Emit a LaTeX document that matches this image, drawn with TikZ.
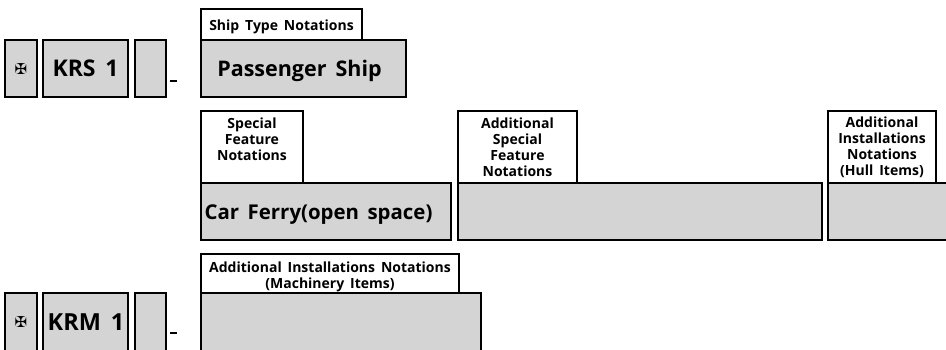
\documentclass[tikz,border=0pt]{standalone}
\usepackage{fontspec}
\setmainfont{Open Sans}
\newfontfamily\crossfont{DejaVu Sans}
\newcommand{\tightleading}[1]{\fontsize{#1}{#1}\selectfont\bfseries\spaceskip=.42em plus .05em minus .05em\relax}
\newcommand{\dropped}[1]{\raisebox{-8.5pt}[0pt][0pt]{#1}}
\tikzset{
  boxbase/.style={draw=black,line width=2.7pt,anchor=north west,inner sep=0pt,outer sep=0pt,align=center,text=black},
  greybox/.style={boxbase,fill=boxgrey,font=\tightleading{21.5}},
  notebox/.style={boxbase,fill=white,font=\tightleading{14},execute at begin node={\baselineskip=16pt\relax}},
  crossmark/.style={font={\crossfont\bfseries\fontsize{15}{15}\selectfont},inner sep=0pt},
  dashmark/.style={inner sep=0pt,fill=black,minimum width=7pt,minimum height=1.6pt}
}
\definecolor{boxgrey}{RGB}{212,212,212}
\begin{document}
\begin{tikzpicture}[x=1pt,y=-1pt]
\useasboundingbox (0,0) rectangle (946,350);
\clip (0,0) rectangle (946,350);
% first row
\node[greybox,minimum width=32pt,minimum height=57pt] (crossa) at (5,40) {};
\node[crossmark] (crossamark) at (21,69.5) {✠};
\node[greybox,minimum width=85pt,minimum height=57pt,font=\tightleading{23}] (krs) at (43,40) {\dropped{KRS 1}};
\node[greybox,minimum width=31pt,minimum height=57pt] (emptya) at (135,40) {};
\node[dashmark] (dasha) at (173.5,81) {};
\node[notebox,minimum width=161pt,minimum height=31pt] (shiplabel) at (201,9) {\raisebox{-6pt}[0pt][0pt]{Ship Type Notations}};
\node[greybox,minimum width=205pt,minimum height=57pt] (ship) at (201,40) {\dropped{Passenger Ship}\hspace{8pt}};
% second row
\node[notebox,minimum width=102pt,minimum height=72pt] (speciallabel) at (201,111) {Special\\Feature\\Notations\\\mbox{}};
\node[greybox,minimum width=250pt,minimum height=57pt,font=\tightleading{20.4}] (ferry) at (201,183) {\dropped{Car Ferry(open space)}\hspace{15pt}};
\node[notebox,minimum width=119pt,minimum height=72pt] (addlabel) at (458,111) {Additional\\Special\\Feature\\Notations};
\node[greybox,minimum width=364pt,minimum height=57pt] (addbox) at (458,183) {};
\node[notebox,minimum width=108pt,minimum height=72pt] (hulllabel) at (828,111) {Additional\\Installations\\Notations\\(Hull Items)};
\node[greybox,minimum width=140pt,minimum height=57pt] (hullbox) at (828,183) {};
% third row
\node[notebox,minimum width=258pt,minimum height=39pt] (machlabel) at (201,254) {\rule{0pt}{17pt}Additional Installations Notations\\(Machinery Items)};
\node[greybox,minimum width=280pt,minimum height=70pt] (machbox) at (201,293) {};
\node[greybox,minimum width=32pt,minimum height=70pt] (crossb) at (5,293) {};
\node[crossmark] (crossbmark) at (21,322) {✠};
\node[greybox,minimum width=85pt,minimum height=70pt] (krmbox) at (43,293) {};
\node[font=\tightleading{23.5},inner sep=0pt,anchor=base] (krm) at (86,330) {KRM 1};
\node[greybox,minimum width=31pt,minimum height=70pt] (emptyb) at (135,293) {};
\node[dashmark] (dashb) at (173.5,333) {};
\end{tikzpicture}
\end{document}
